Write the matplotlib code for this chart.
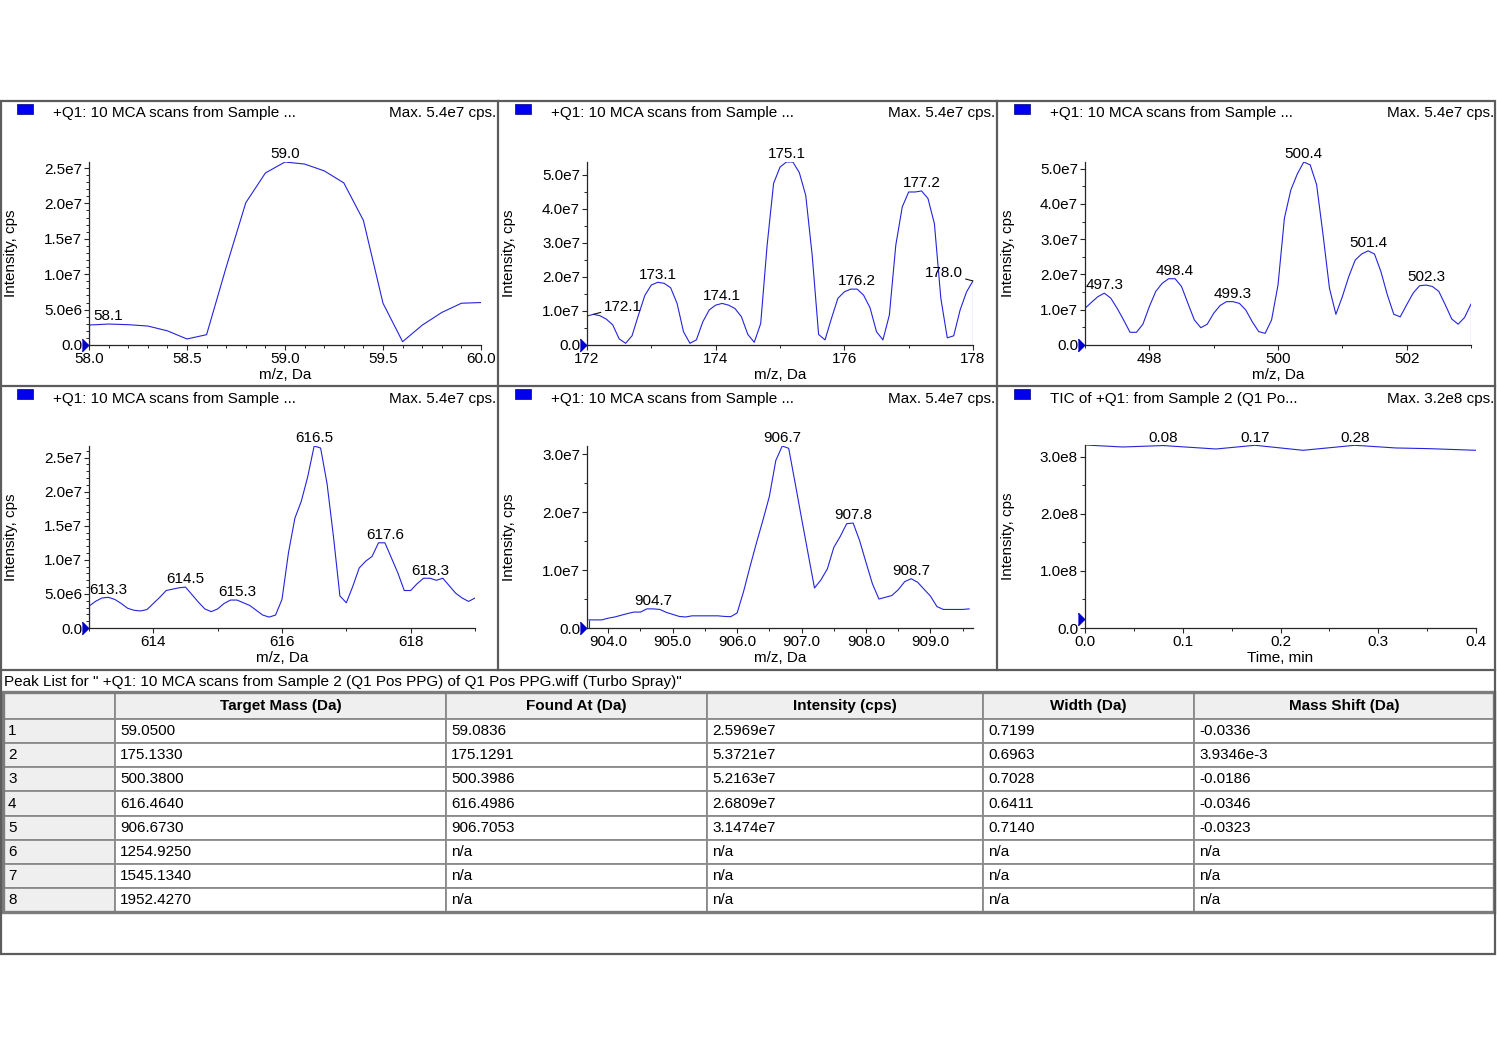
import numpy as np
import matplotlib
matplotlib.use('Agg')
import matplotlib.pyplot as plt
from matplotlib.lines import Line2D
from matplotlib.patches import Rectangle
from matplotlib.ticker import MultipleLocator, FuncFormatter, FormatStrFormatter
from matplotlib.transforms import offset_copy

plt.rcParams['font.family'] = ['Liberation Sans', 'DejaVu Sans']
plt.rcParams['font.size'] = 11

W, H = 1497, 1058

# spectrum windows: m/z (Da) and intensity (1e6 cps)
mz_59 = [58.0, 58.1, 58.2, 58.3, 58.4, 58.5, 58.6, 58.7, 58.8, 58.9, 59.0,
         59.1, 59.2, 59.3, 59.4, 59.5, 59.6, 59.7, 59.8, 59.9, 60.0]
int_59 = [2.82, 2.96, 2.87, 2.68, 2.0, 0.85, 1.46, 11.0, 20.1, 24.3, 25.85,
          25.56, 24.6, 22.9, 17.6, 5.9, 0.47, 2.8, 4.6, 5.9, 6.0]

mz_175 = [172.0, 172.1, 172.2, 172.3, 172.4, 172.5, 172.6, 172.7, 172.8, 172.9,
          173.0, 173.1, 173.2, 173.3, 173.4, 173.5, 173.6, 173.7, 173.8, 173.9,
          174.0, 174.1, 174.2, 174.3, 174.4, 174.5, 174.6, 174.7, 174.8, 174.9,
          175.0, 175.1, 175.2, 175.3, 175.4, 175.5, 175.6, 175.7, 175.8, 175.9,
          176.0, 176.1, 176.2, 176.3, 176.4, 176.5, 176.6, 176.7, 176.8, 176.9,
          177.0, 177.1, 177.2, 177.3, 177.4, 177.5, 177.6, 177.7, 177.8, 177.9,
          178.0]
int_175 = [8.5, 9.0, 8.6, 7.6, 5.9, 1.8, 0.5, 2.7, 8.8, 14.6,
           17.6, 18.4, 18.1, 16.8, 12.2, 3.9, 0.5, 1.5, 6.8, 10.3,
           11.7, 12.2, 11.7, 10.7, 8.3, 3.1, 0.8, 6.3, 29.3, 47.4,
           52.2, 53.7, 53.7, 50.6, 43.9, 26.4, 3.1, 1.5, 7.8, 13.7,
           15.6, 16.4, 16.4, 14.6, 10.9, 3.9, 1.5, 8.8, 29.3, 40.5,
           44.9, 44.9, 45.2, 43.0, 35.6, 13.7, 2.1, 2.7, 10.3, 15.6,
           18.8]

mz_500 = [497.0, 497.1, 497.2, 497.3, 497.4, 497.5, 497.6, 497.7, 497.8, 497.9,
          498.0, 498.1, 498.2, 498.3, 498.4, 498.5, 498.6, 498.7, 498.8, 498.9,
          499.0, 499.1, 499.2, 499.3, 499.4, 499.5, 499.6, 499.7, 499.8, 499.9,
          500.0, 500.1, 500.2, 500.3, 500.4, 500.5, 500.6, 500.7, 500.8, 500.9,
          501.0, 501.1, 501.2, 501.3, 501.4, 501.5, 501.6, 501.7, 501.8, 501.9,
          502.0, 502.1, 502.2, 502.3, 502.4, 502.5, 502.6, 502.7, 502.8, 502.9,
          503.0]
int_500 = [10.4, 12.1, 13.7, 14.7, 13.3, 10.4, 7.1, 3.6, 3.6, 5.9,
           10.9, 15.2, 17.5, 18.8, 18.8, 16.6, 11.8, 7.1, 4.9, 5.9,
           9.0, 11.2, 12.3, 12.3, 11.8, 9.9, 6.6, 3.8, 3.3, 7.1,
           17.0, 36.0, 44.0, 48.5, 51.9, 51.1, 45.5, 31.3, 16.1, 8.7,
           13.7, 19.4, 24.1, 25.8, 26.7, 25.8, 20.8, 14.2, 8.7, 8.0,
           11.4, 14.7, 16.8, 17.0, 16.6, 15.2, 11.4, 7.4, 5.9, 7.8,
           11.6]

mz_616 = [613.0, 613.1, 613.2, 613.3, 613.4, 613.5, 613.6, 613.7, 613.8, 613.9,
          614.0, 614.1, 614.2, 614.3, 614.4, 614.5, 614.6, 614.7, 614.8, 614.9,
          615.0, 615.1, 615.2, 615.3, 615.4, 615.5, 615.6, 615.7, 615.8, 615.9,
          616.0, 616.1, 616.2, 616.3, 616.4, 616.5, 616.6, 616.7, 616.8, 616.9,
          617.0, 617.1, 617.2, 617.3, 617.4, 617.5, 617.6, 617.7, 617.8, 617.9,
          618.0, 618.1, 618.2, 618.3, 618.4, 618.5, 618.6, 618.7, 618.8, 618.9,
          619.0]
int_616 = [3.2, 3.9, 4.4, 4.5, 4.2, 3.6, 2.9, 2.6, 2.5, 2.7,
           3.6, 4.5, 5.5, 5.7, 5.9, 6.0, 4.9, 3.8, 2.8, 2.4,
           2.8, 3.6, 4.1, 4.1, 3.7, 3.3, 2.6, 1.9, 1.6, 1.9,
           4.2, 11.0, 16.1, 18.6, 22.2, 26.7, 26.4, 21.2, 13.4, 4.7,
           3.7, 6.1, 8.8, 9.8, 10.5, 12.5, 12.5, 10.3, 8.1, 5.5,
           5.5, 6.5, 7.3, 7.3, 7.0, 7.3, 6.2, 5.1, 4.4, 3.9,
           4.4]

mz_907 = [903.7, 903.8, 903.9,
          904.0, 904.1, 904.2, 904.3, 904.4, 904.5, 904.6, 904.7, 904.8, 904.9,
          905.0, 905.1, 905.2, 905.3, 905.4, 905.5, 905.6, 905.7, 905.8, 905.9,
          906.0, 906.1, 906.2, 906.3, 906.4, 906.5, 906.6, 906.7, 906.8, 906.9,
          907.0, 907.1, 907.2, 907.3, 907.4, 907.5, 907.6, 907.7, 907.8, 907.9,
          908.0, 908.1, 908.2, 908.3, 908.4, 908.5, 908.6, 908.7, 908.8, 908.9,
          909.0, 909.1, 909.2, 909.3, 909.4, 909.5, 909.6]
int_907 = [1.4, 1.4, 1.4,
           1.7, 1.9, 2.2, 2.5, 2.75, 2.75, 3.3, 3.3, 3.2, 2.7,
           2.35, 2.0, 1.9, 2.1, 2.1, 2.1, 2.1, 2.1, 2.0, 1.95,
           2.6, 6.3, 10.6, 14.7, 18.6, 22.7, 28.9, 31.4, 31.0, 25.0,
           18.9, 12.9, 6.9, 8.3, 10.2, 13.9, 15.8, 18.0, 18.1, 15.1,
           11.3, 7.6, 5.0, 5.3, 5.6, 6.6, 8.0, 8.5, 7.9, 6.7,
           5.5, 3.7, 3.2, 3.2, 3.2, 3.2, 3.3]

# total ion chromatogram: time (min) and intensity (1e6 cps)
tic_time = [0.0, 0.0385, 0.08, 0.134, 0.174, 0.223, 0.276, 0.318, 0.352, 0.4]
tic_int = [321.0, 317.5, 320.0, 314.0, 320.5, 311.7, 320.5, 315.8, 314.6, 311.7]
tic_labels = ['0.08', '0.17', '0.28']
tic_label_time = [0.08, 0.174, 0.276]

# labelled peaks per window
peaks_59 = [58.1, 59.0]
peaks_175 = [172.1, 173.1, 174.1, 175.1, 176.2, 177.2, 178.0]
peaks_500 = [497.3, 498.4, 499.3, 500.4, 501.4, 502.3]
peaks_616 = [613.3, 614.5, 615.3, 616.5, 617.6, 618.3]
peaks_907 = [904.7, 906.7, 907.8, 908.7]

# peak list table
col_labels = ['', 'Target Mass (Da)', 'Found At (Da)', 'Intensity (cps)', 'Width (Da)', 'Mass Shift (Da)']
row_ids = ['1', '2', '3', '4', '5', '6', '7', '8']
target_mass = ['59.0500', '175.1330', '500.3800', '616.4640', '906.6730', '1254.9250', '1545.1340', '1952.4270']
found_at = ['59.0836', '175.1291', '500.3986', '616.4986', '906.7053', 'n/a', 'n/a', 'n/a']
found_int = ['2.5969e7', '5.3721e7', '5.2163e7', '2.6809e7', '3.1474e7', 'n/a', 'n/a', 'n/a']
width_da = ['0.7199', '0.6963', '0.7028', '0.6411', '0.7140', 'n/a', 'n/a', 'n/a']
mass_shift = ['-0.0336', '3.9346e-3', '-0.0186', '-0.0346', '-0.0323', 'n/a', 'n/a', 'n/a']

scan_title = '+Q1: 10 MCA scans from Sample ...'
tic_title = 'TIC of +Q1: from Sample 2 (Q1 Po...'
peak_list_title = 'Peak List for " +Q1: 10 MCA scans from Sample 2 (Q1 Pos PPG) of Q1 Pos PPG.wiff (Turbo Spray)"'

line_col = '#2424dc'
frame_col = '#5c5c5c'


def sci(v, pos):
    if abs(v) < 1e-9:
        return '0.0'
    m, e = f'{v:.1e}'.split('e')
    return f'{m}e{int(e)}'


fig = plt.figure(figsize=(W / 100, H / 100), dpi=100)


def fig_line(xs, ys, lw=1.6):
    fig.add_artist(Line2D([x / W for x in xs], [1 - y / H for y in ys],
                          color=frame_col, lw=lw, transform=fig.transFigure))


# outer frame and panel separators
fig.add_artist(Rectangle((1 / W, 1 - 954 / H), 1494 / W, 853 / H, fill=False,
                         ec=frame_col, lw=1.6, transform=fig.transFigure))
fig_line([1, 1495], [386, 386])
fig_line([1, 1495], [670, 670])
fig_line([498, 498], [101, 670])
fig_line([997, 997], [101, 670])

panels = [
    dict(x=mz_59, y=int_59, peaks=peaks_59, col=0, row=0, box=(89, 481, 345, 162),
         xmaj=0.5, xmin=0.1, ymaj=5e6, ymin=1e6, xfmt='%.1f', xlim=(58.0, 60.0), drop='left'),
    dict(x=mz_175, y=int_175, peaks=peaks_175, col=1, row=0, box=(587, 973, 345, 162),
         xmaj=2, xmin=1, ymaj=1e7, ymin=5e6, xfmt='%d', xlim=(172, 178), drop='right'),
    dict(x=mz_500, y=int_500, peaks=peaks_500, col=2, row=0, box=(1085, 1471, 345, 162),
         xmaj=2, xmin=1, ymaj=1e7, ymin=5e6, xfmt='%d', xlim=(497, 503), drop='right'),
    dict(x=mz_616, y=int_616, peaks=peaks_616, col=0, row=1, box=(89, 475, 628, 446),
         xmaj=2, xmin=1, ymaj=5e6, ymin=1e6, xfmt='%d', xlim=(613, 619), drop='left'),
    dict(x=mz_907, y=int_907, peaks=peaks_907, col=1, row=1, box=(587, 973, 628, 446),
         xmaj=1, xmin=0.5, ymaj=1e7, ymin=5e6, xfmt='%.1f', xlim=(903.67, 909.66), drop='left'),
    dict(x=tic_time, y=tic_int, peaks=tic_label_time, col=2, row=1, box=(1085, 1476, 628, 445),
         xmaj=0.1, xmin=0.05, ymaj=1e8, ymin=5e7, xfmt='%.1f', xlim=(0.0, 0.4), drop=None),
]

col_x = [0, 498, 997]
row_y = [101, 386]
# labels drawn beside the point with a leader line (offset in points)
leader = {172.1: (21, 5.5), 178.0: (-21, 5.5)}

for i, p in enumerate(panels):
    left, right, bottom, top = p['box']
    ax = fig.add_axes([left / W, 1 - bottom / H, (right - left) / W, (bottom - top) / H])
    xs = np.array(p['x'])
    ys = np.array(p['y']) * 1e6
    ax.plot(xs, ys, color=line_col, lw=0.8)
    if p['drop'] == 'left':
        ax.vlines(xs[0], 0, ys[0], color=line_col, lw=0.8)
    elif p['drop'] == 'right':
        ax.vlines(xs[-1], 0, ys[-1], color=line_col, lw=0.8)
    ax.set_xlim(*p['xlim'])
    ax.set_ylim(0, ys.max())

    is_tic = i == 5
    texts = tic_labels if is_tic else [f'{v:.1f}' for v in p['peaks']]
    for px, txt in zip(p['peaks'], texts):
        py = np.interp(px, xs, ys)
        if not is_tic and px in leader:
            ax.annotate(txt, (px, py), xytext=leader[px], textcoords='offset points',
                        ha='center', va='center', fontsize=11, annotation_clip=False,
                        arrowprops=dict(arrowstyle='-', color='#111111', lw=0.8,
                                        shrinkA=0, shrinkB=0))
        else:
            ax.annotate(txt, (px, py), xytext=(0, 0.5), textcoords='offset points',
                        ha='center', va='bottom', fontsize=11, annotation_clip=False)

    for side in ['top', 'right']:
        ax.spines[side].set_visible(False)
    for side in ['left', 'bottom']:
        ax.spines[side].set_color('#262626')
        ax.spines[side].set_linewidth(0.9)
    ax.xaxis.set_major_locator(MultipleLocator(p['xmaj']))
    ax.xaxis.set_minor_locator(MultipleLocator(p['xmin']))
    ax.yaxis.set_major_locator(MultipleLocator(p['ymaj']))
    ax.yaxis.set_minor_locator(MultipleLocator(p['ymin']))
    ax.xaxis.set_major_formatter(FormatStrFormatter(p['xfmt']))
    ax.yaxis.set_major_formatter(FuncFormatter(sci))
    ax.tick_params(which='major', direction='out', length=3.5, width=0.8,
                   color='#262626', labelsize=11, pad=1.5)
    ax.tick_params(which='minor', direction='out', length=2, width=0.7, color='#262626')
    ax.set_xlabel('Time, min' if is_tic else 'm/z, Da', fontsize=11, labelpad=1.5)
    ax.set_ylabel('Intensity, cps', fontsize=11)
    ax.yaxis.set_label_coords((col_x[p['col']] + 18 - left) / (right - left), 0.5)

    # baseline marker at the start of the y axis
    mk = 0.0 if not is_tic else 1.5e7
    ax.plot([0], [mk], marker=[(-0.5, -1), (0.5, 0), (-0.5, 1)], ms=9, color='#0000cc',
            transform=offset_copy(ax.get_yaxis_transform(), fig=fig, x=-3, units='points'),
            clip_on=False)

    # panel header
    cx, ry = col_x[p['col']], row_y[p['row']]
    fig.add_artist(Rectangle(((cx + 17) / W, 1 - (ry + 13) / H), 16 / W, 10 / H,
                             fc='#0000ee', ec='#00007a', lw=0.5, transform=fig.transFigure))
    fig.text((cx + 53) / W, 1 - (ry + 12.5) / H, tic_title if is_tic else scan_title,
             va='center', ha='left', fontsize=11)
    right_edge = [496, 995, 1494][p['col']]
    fig.text(right_edge / W, 1 - (ry + 12.5) / H,
             'Max. 3.2e8 cps.' if is_tic else 'Max. 5.4e7 cps.',
             va='center', ha='right', fontsize=11)

# peak list
fig.text(4 / W, 1 - 682 / H, peak_list_title, va='center', ha='left', fontsize=11)

col_px = [112, 331, 261, 276, 211, 300]
tab_ax = fig.add_axes([3 / W, 1 - 912 / H, 1491 / W, 220 / H])
tab_ax.axis('off')
rows = [list(r) for r in zip(row_ids, target_mass, found_at, found_int, width_da, mass_shift)]
tbl = tab_ax.table(cellText=rows, colLabels=col_labels, cellLoc='left',
                   colWidths=[c / sum(col_px) for c in col_px], bbox=[0, 0, 1, 1])
tbl.auto_set_font_size(False)
tbl.set_fontsize(11)
for (r, c), cell in tbl.get_celld().items():
    cell.set_edgecolor('#8a8a8a')
    cell.set_linewidth(1.3)
    cell.set_height(27 if r == 0 else 24)
    cell.PAD = 5 / col_px[c]
    if r == 0:
        cell.set_facecolor('#efefef')
        cell.get_text().set_ha('center')
        cell.get_text().set_fontweight('bold')
    elif c == 0:
        cell.set_facecolor('#efefef')
tab_ax.add_patch(Rectangle((0, 0), 1, 1, transform=tab_ax.transAxes, fill=False,
                           ec='#7c7c7c', lw=2.4, clip_on=False))

fig.savefig('out.png', dpi=100)
